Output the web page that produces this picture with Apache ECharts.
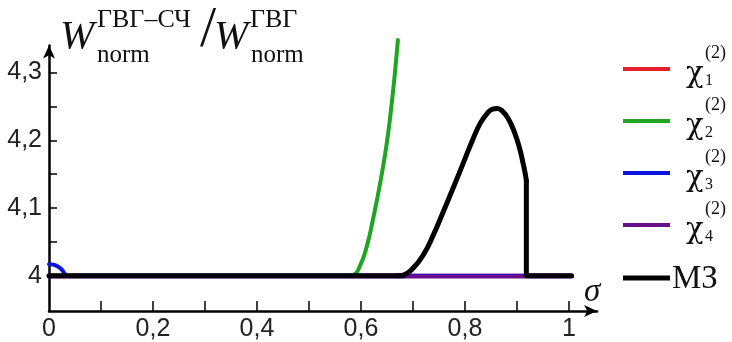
<!DOCTYPE html>
<html><head><meta charset="utf-8">
<script src="https://cdn.jsdelivr.net/npm/echarts@6/dist/echarts.min.js"></script>
<style>html,body{margin:0;padding:0;background:#fff}#c{width:732px;height:342px}</style>
</head><body><div id="c"></div><script>
const xTickValues = [0.1,0.2,0.3,0.4,0.5,0.6,0.7,0.8,0.9,1.0];
const xLabelValues = [0,0.2,0.4,0.6,0.8,1];
const yTickValues = [4,4.05,4.1,4.15,4.2,4.25,4.3];
const yLabelValues = [4,4.1,4.2,4.3];
const seriesNames = ['chi1','chi2','chi3','chi4','МЗ'];
const seriesColors = ['#e3202b','#1fa51f','#0a14e0','#6a0f8c','#000000'];
const chi1 = [[0,4],[1.005,4]];
const chi2Flat = [[0,4],[0.585,4]];
const chi2Rise = [[0.575,4],[0.585,4.001],[0.598,4.0145],[0.611,4.043],[0.623,4.083],[0.633,4.121],[0.642,4.159],[0.650,4.198],[0.6565,4.237],[0.662,4.275],[0.667,4.314],[0.671,4.348]];
const chi3 = [[0,4.017],[0.008,4.0165],[0.015,4.0145],[0.024,4.0097],[0.031,4.0025],[0.036,4],[1.005,4]];
const chi4 = [[0,3.999],[1.005,3.999]];
const mzRise = [[0.670,4],[0.681,4.001],[0.701,4.012],[0.720,4.031],[0.739,4.060],[0.758,4.094],[0.778,4.131],[0.797,4.167],[0.816,4.203],[0.830,4.226],[0.843,4.240],[0.853,4.246],[0.862,4.247],[0.872,4.243],[0.883,4.232],[0.895,4.212],[0.905,4.188],[0.912,4.165],[0.916,4.150],[0.918,4.14]];
const mzFlatA = [[0,4],[0.681,4]];
const mzFlatB = [[0.918,4.14],[0.918,4],[1.005,4]];
const legendCenters = [69, 121, 173, 225, 278];

const chart = echarts.init(document.getElementById('c'), null, {renderer:'canvas'});
const X0 = 49, PXX = 520, Y4 = 280, PXY = 690;
const xMax = 1.054, yMin = 3.948, yMax = 4.34;
const serif = '"Liberation Serif", "Times New Roman", serif';
const sans = '"Liberation Sans", Arial, sans-serif';
const fmt = v => (Math.round(v*10)/10).toString().replace('.', ',');

const legends = seriesNames.map((n,i) => {
  const h = i === 4 ? 5 : 4;
  return {data:[n], left:623, top: legendCenters[i] - h/2, icon:'rect', itemWidth:47, itemHeight:h,
    formatter: () => '', textStyle:{fontSize:1, lineHeight:1}, padding:0, itemGap:0, selectedMode:false};
});

function txt(text, x, y, size, opts) {
  return {type:'text', x:x, y:y, style:Object.assign({text:text, fill:'#111', font: size+'px '+serif, verticalAlign:'middle', align:'left'}, opts||{})};
}
const graphics = [
  txt('W', 60, 37, 41, {font:'italic 41px '+serif}),
  txt('ГВГ–СЧ', 97, 20, 26),
  txt('norm', 97, 55, 25),
  txt('/', 200, 31, 58),
  txt('W', 214, 37, 41, {font:'italic 41px '+serif}),
  txt('ГВГ', 250, 20, 26),
  txt('norm', 251, 55, 25),
  txt('σ', 584, 292, 33, {font:'italic 33px '+serif}),
  txt('МЗ', 672, 279, 33)
];
['1','2','3','4'].forEach((k,i) => {
  const c = legendCenters[i];
  graphics.push(txt('χ', 686, c + 5, 29, {font:'29px "DejaVu Serif", serif'}));
  graphics.push(txt(k, 705, c + 12, 16));
  graphics.push(txt('(2)', 705, c - 16, 18));
});

const mk = (n, i, data, smooth) => ({
  name:n, type:'line', data:data, symbol:'none', showSymbol:false, smooth:smooth,
  clip:false, z: 2+i, itemStyle:{color:seriesColors[i]},
  lineStyle:{color:seriesColors[i], width: i===4 ? 5 : 4, cap:'round', join:'round'}
});

const option = {
  animation:false,
  backgroundColor:'#fff',
  grid:{left:X0, top: Y4 - (yMax-4)*PXY, width: xMax*PXX, height:(yMax-yMin)*PXY, containLabel:false},
  legend: legends,
  xAxis:{type:'value', min:0, max:xMax,
    axisLine:{show:true, onZero:false, lineStyle:{color:'#000', width:2.5}, symbol:['none','arrow'], symbolSize:[9,13]},
    axisTick:{show:true, inside:true, length:10, lineStyle:{color:'#000', width:1.5}, customValues:xTickValues},
    axisLabel:{show:true, customValues:xLabelValues, formatter:fmt, fontSize:25, fontFamily:sans, color:'#222', margin:6},
    splitLine:{show:false}},
  yAxis:{type:'value', min:yMin, max:yMax,
    axisLine:{show:true, onZero:false, lineStyle:{color:'#000', width:2.5}, symbol:['none','arrow'], symbolSize:[9,13]},
    axisTick:{show:true, inside:true, length:8, lineStyle:{color:'#000', width:1.5}, customValues:yTickValues},
    axisLabel:{show:true, customValues:yLabelValues, formatter:fmt, fontSize:25, fontFamily:sans, color:'#222', margin:7},
    splitLine:{show:false}},
  series: [
    mk(seriesNames[0], 0, chi1, false),
    mk(seriesNames[1], 1, chi2Flat, false),
    mk(seriesNames[1], 1, chi2Rise, 0.5),
    mk(seriesNames[2], 2, chi3, 0.4),
    mk(seriesNames[3], 3, chi4, false),
    mk(seriesNames[4], 4, mzFlatA, false),
    mk(seriesNames[4], 4, mzRise, 0.5),
    mk(seriesNames[4], 4, mzFlatB, false)
  ],
  graphic: graphics
};
chart.setOption(option);
</script></body></html>
